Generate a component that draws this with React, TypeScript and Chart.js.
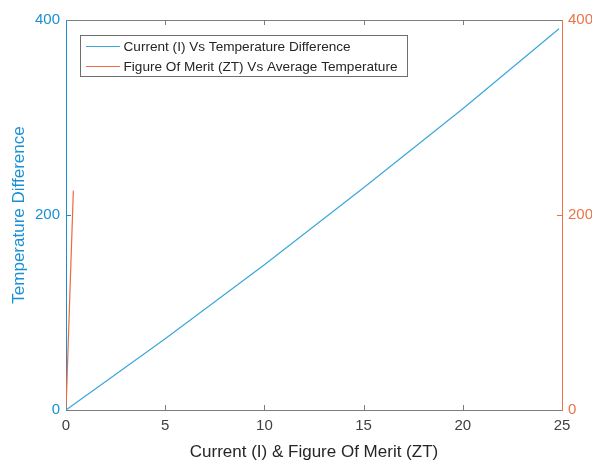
import React, { useEffect, useRef } from "react";
import { Chart, registerables } from "chart.js";

Chart.register(...registerables);

const currentX = [0, 5, 10, 15, 20, 24.85];
const tempDiff = [0, 73, 149, 228, 309, 391];
const ztX = [0, 0.37];
const avgTemp = [0, 225];
const xTicks = [0, 5, 10, 15, 20, 25];
const yTicks = [0, 200, 400];
const seriesLabels = [
  "Current (I) Vs Temperature Difference",
  "Figure Of Merit (ZT) Vs Average Temperature",
];
const xTitle = "Current (I) & Figure Of Merit (ZT)";
const yTitle = "Temperature Difference";

const BLUE_AXIS = "#1890D2";
const BLUE_LINE = "#3AA7DB";
const ORANGE_AXIS = "#EB7447";
const ORANGE_LINE = "#EF6A3C";
const GRAY = "#7d7d7d";
const TEXT = "#404040";
const FONT = "'Liberation Sans', Arial, sans-serif";

const boxPlugin = {
  id: "matlabBox",
  afterDraw(chart: any) {
    const { ctx, chartArea: a, scales } = chart;
    const x = scales.x, y = scales.y, y1 = scales.y1;
    const L = 5;
    ctx.save();
    ctx.lineWidth = 1;
    ctx.strokeStyle = GRAY;
    ctx.beginPath();
    ctx.moveTo(a.left, Math.round(a.top) + 0.5);
    ctx.lineTo(a.right, Math.round(a.top) + 0.5);
    ctx.stroke();
    xTicks.forEach((v) => {
      const px = Math.round(x.getPixelForValue(v)) + 0.5;
      if (v === 0 || v === 25) return;
      ctx.beginPath();
      ctx.moveTo(px, a.bottom);
      ctx.lineTo(px, a.bottom - L);
      ctx.moveTo(px, a.top);
      ctx.lineTo(px, a.top + L);
      ctx.stroke();
    });
    yTicks.forEach((v) => {
      if (v === 0 || v === 400) return;
      const py = Math.round(y.getPixelForValue(v)) + 0.5;
      ctx.strokeStyle = BLUE_AXIS;
      ctx.beginPath();
      ctx.moveTo(a.left, py);
      ctx.lineTo(a.left + L, py);
      ctx.stroke();
      const py1 = Math.round(y1.getPixelForValue(v)) + 0.5;
      ctx.strokeStyle = ORANGE_AXIS;
      ctx.beginPath();
      ctx.moveTo(a.right, py1);
      ctx.lineTo(a.right - L, py1);
      ctx.stroke();
    });
    const bx = 80.5, by = 35.5, bw = 327, bh = 41;
    ctx.fillStyle = "#ffffff";
    ctx.fillRect(bx, by, bw, bh);
    ctx.strokeStyle = "#6e6e6e";
    ctx.strokeRect(bx, by, bw, bh);
    const rows = [46.5, 66.5];
    const colors = [BLUE_LINE, ORANGE_LINE];
    ctx.font = `13.6px ${FONT}`;
    ctx.textBaseline = "middle";
    ctx.textAlign = "left";
    seriesLabels.forEach((lab, i) => {
      ctx.strokeStyle = colors[i];
      ctx.beginPath();
      ctx.moveTo(86, rows[i]);
      ctx.lineTo(120, rows[i]);
      ctx.stroke();
      ctx.fillStyle = "#262626";
      ctx.fillText(lab, 123.5, rows[i] + 0.5);
    });
    ctx.restore();
  },
};

export default function App() {
  const ref = useRef<HTMLCanvasElement>(null);
  useEffect(() => {
    document.body.style.margin = "0";
    const chart = new Chart(ref.current!, {
      type: "scatter",
      data: {
        datasets: [
          {
            label: seriesLabels[0],
            data: currentX.map((v, i) => ({ x: v, y: tempDiff[i] })),
            showLine: true,
            borderColor: BLUE_LINE,
            borderWidth: 1.2,
            pointRadius: 0,
            yAxisID: "y",
          },
          {
            label: seriesLabels[1],
            data: ztX.map((v, i) => ({ x: v, y: avgTemp[i] })),
            showLine: true,
            borderColor: ORANGE_LINE,
            borderWidth: 1.2,
            pointRadius: 0,
            yAxisID: "y1",
          },
        ],
      },
      options: {
        animation: false,
        responsive: false,
        layout: { padding: { top: 20, left: 0, right: 0, bottom: 0 } },
        plugins: { legend: { display: false }, tooltip: { enabled: false } },
        scales: {
          x: {
            type: "linear",
            min: 0,
            max: 25,
            afterBuildTicks: (s: any) => {
              s.ticks = xTicks.map((v) => ({ value: v }));
            },
            afterFit: (s: any) => {
              s.height = 53;
            },
            grid: { drawOnChartArea: false, drawTicks: false },
            border: { color: GRAY, width: 1 },
            ticks: {
              color: TEXT,
              font: { family: FONT, size: 15 },
              padding: 7,
              maxRotation: 0,
            },
            title: {
              display: true,
              text: xTitle,
              color: "#262626",
              font: { family: FONT, size: 17 },
              padding: { top: 0, bottom: 0 },
            },
          },
          y: {
            type: "linear",
            position: "left",
            min: 0,
            max: 400,
            afterBuildTicks: (s: any) => {
              s.ticks = yTicks.map((v) => ({ value: v }));
            },
            afterFit: (s: any) => {
              s.width = 66;
            },
            grid: { drawOnChartArea: false, drawTicks: false },
            border: { color: BLUE_AXIS, width: 1 },
            ticks: {
              color: BLUE_AXIS,
              font: { family: FONT, size: 15 },
              padding: 6,
            },
            title: {
              display: true,
              text: yTitle,
              color: BLUE_AXIS,
              font: { family: FONT, size: 17 },
              padding: { top: 9, bottom: 4 },
            },
          },
          y1: {
            type: "linear",
            position: "right",
            min: 0,
            max: 400,
            afterBuildTicks: (s: any) => {
              s.ticks = yTicks.map((v) => ({ value: v }));
            },
            afterFit: (s: any) => {
              s.width = 30;
            },
            grid: { drawOnChartArea: false, drawTicks: false },
            border: { color: ORANGE_AXIS, width: 1 },
            ticks: {
              color: ORANGE_AXIS,
              font: { family: FONT, size: 15 },
              padding: 6,
            },
          },
        },
      },
      plugins: [boxPlugin],
    });
    return () => chart.destroy();
  }, []);
  return (
    <div style={{ position: "fixed", left: 0, top: 0, width: 592, height: 463, background: "#fff" }}>
      <canvas ref={ref} width={592} height={463} />
    </div>
  );
}
